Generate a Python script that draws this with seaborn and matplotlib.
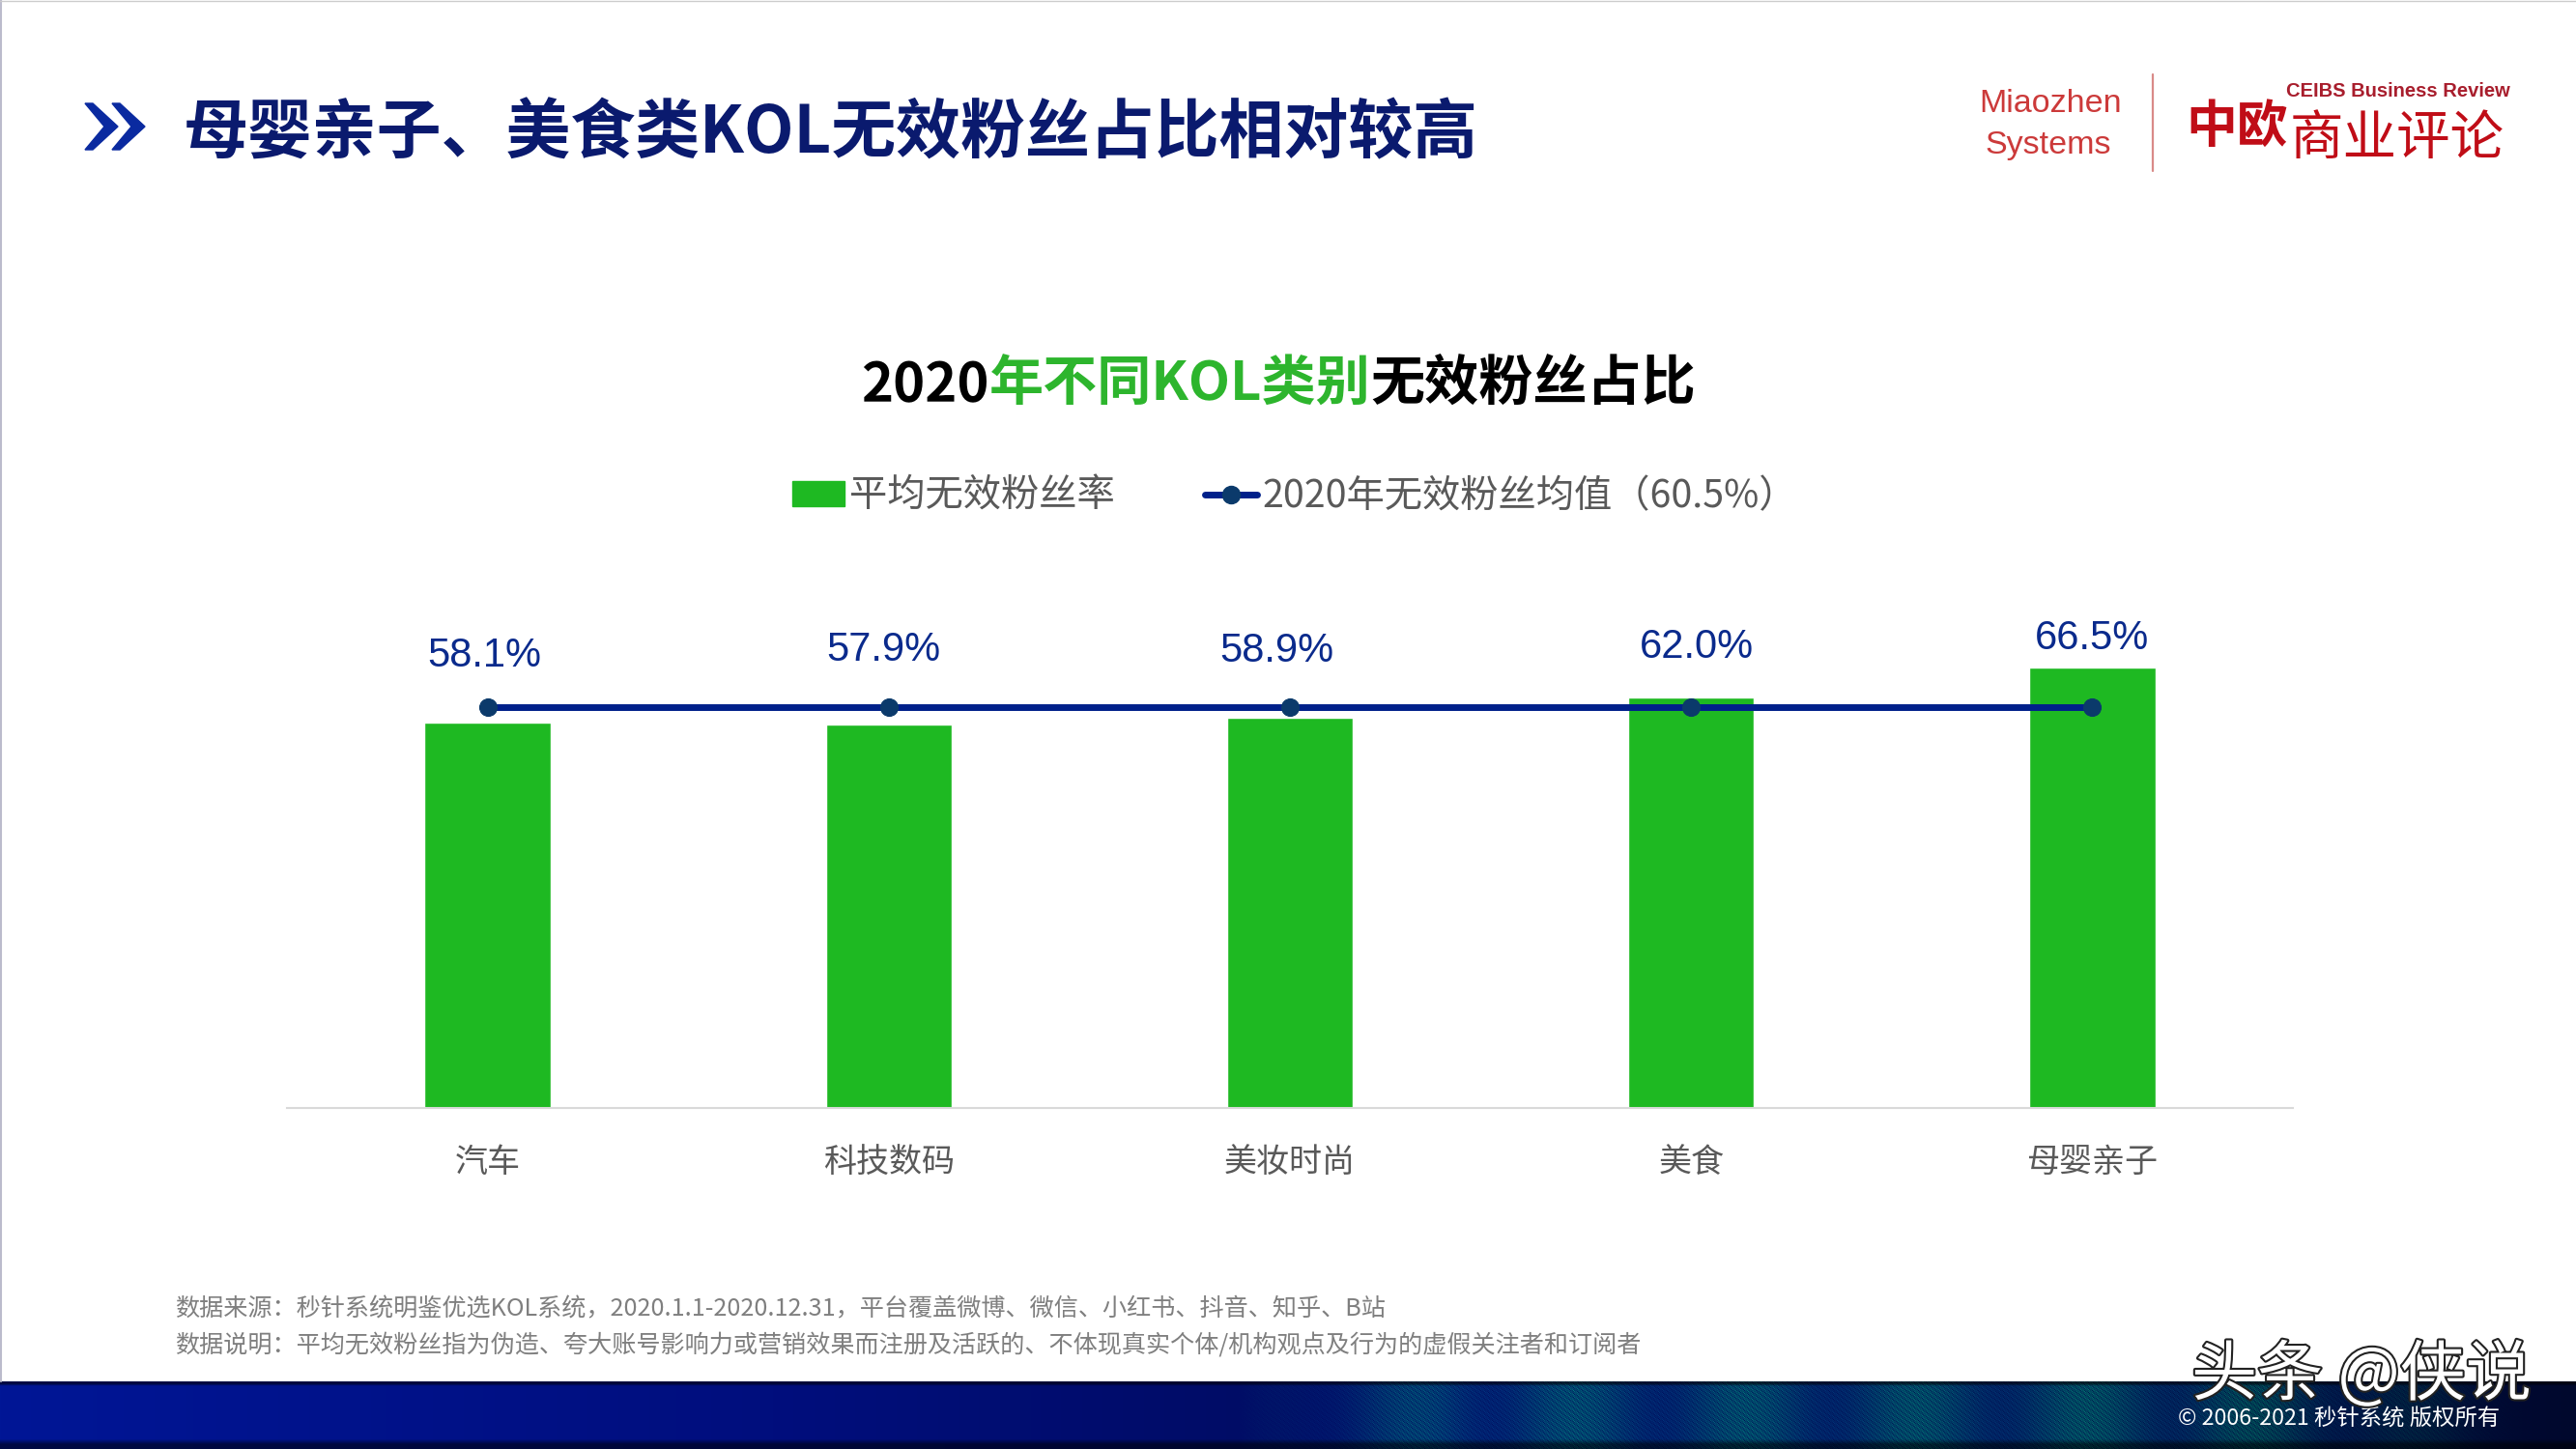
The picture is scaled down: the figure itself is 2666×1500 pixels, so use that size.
import numpy as np
import pandas as pd
import matplotlib
matplotlib.use("Agg")
import matplotlib.pyplot as plt
from matplotlib.patches import Polygon
from matplotlib.lines import Line2D
import matplotlib.patheffects as pe
import seaborn as sns

categories = ["汽车", "科技数码", "美妆时尚", "美食", "母婴亲子"]
invalid_rate = [58.1, 57.9, 58.9, 62.0, 66.5]
mean_rate = [60.5, 60.5, 60.5, 60.5, 60.5]
value_labels = ["58.1%", "57.9%", "58.9%", "62.0%", "66.5%"]
label_gap_px = [73, 81, 73, 56, 34]
label_dx_px = [-3, -5, -14, 6, 0]
bar_name = "平均无效粉丝率"
line_name = "2020年无效粉丝均值\uff0860.5%\uff09"
main_title = "母婴亲子、美食类KOL无效粉丝占比相对较高"
chart_title_parts = ["2020", "年不同KOL类别", "无效粉丝占比"]
notes = ["数据来源\uff1a秒针系统明鉴优选KOL系统\uff0c2020.1.1-2020.12.31\uff0c平台覆盖微博、微信、小红书、抖音、知乎、B站",
         "数据说明\uff1a平均无效粉丝指为伪造、夸大账号影响力或营销效果而注册及活跃的、不体现真实个体/机构观点及行为的虚假关注者和订阅者"]

W, H = 2666, 1500
CJK = ["Noto Sans CJK SC", "DejaVu Sans"]
LAT = ["Liberation Sans", "DejaVu Sans"]
GREEN = "#1EB922"
NAVY = "#00208A"
GREY = "#595959"

sns.set_theme(style="white")
plt.rcParams["font.family"] = CJK
plt.rcParams["axes.unicode_minus"] = False

fig = plt.figure(figsize=(W / 100, H / 100), dpi=100, facecolor="white")


def ftext(x, y, s, **kw):
    kw.setdefault("va", "center")
    return fig.text(x / W, 1 - y / H, s, **kw)


# footer band (decorative gradient)
band_h = 70
bx = np.linspace(0, 1, W)
by = np.linspace(0, 1, band_h)
xx, yy = np.meshgrid(bx, by)
stops = np.array([0, 0.3, 0.5, 0.8, 1.0])
r = np.interp(xx, stops, [0, 0, 0, 0, 0])
g = np.interp(xx, stops, [22, 14, 12, 16, 8])
b = np.interp(xx, stops, [150, 125, 100, 80, 45])
weave = (np.sin(xx * 1900) * np.sin(xx * 5300 + yy * 70) * np.sin(yy * 155 + xx * 700) + 1) / 2
bands = (np.sin(xx * 95) + 1) / 2
mask = np.clip((xx - 0.48) / 0.08, 0, 1) * np.clip((0.98 - xx) / 0.12, 0, 1)
g = g + mask * weave * (40 + 70 * bands)
b = b + mask * weave * 35
shade = np.clip(yy * 16, 0.45, 1) * np.clip((1 - yy) * 7, 0.45, 1)
img = np.dstack([r, g * shade, b * shade]) / 255
ax_band = fig.add_axes([0, 0, 1, band_h / H])
ax_band.imshow(np.clip(img, 0, 1), aspect="auto", interpolation="nearest")
ax_band.axis("off")

# chart
left, right, top, bottom = 297, 2373, 461, 1147
ax = fig.add_axes([left / W, 1 - bottom / H, (right - left) / W, (bottom - top) / H])
ax.patch.set_alpha(0)
df = pd.DataFrame({"category": categories, "rate": invalid_rate, "mean": mean_rate})
sns.barplot(data=df, x="category", y="rate", color=GREEN, saturation=1, width=0.314, ax=ax, zorder=2)
sns.lineplot(x=np.arange(len(categories)), y=df["mean"], color=NAVY, linewidth=5, marker="o", markersize=13,
             markerfacecolor="#0B3A6B", markeredgecolor="#0B3A6B", errorbar=None, ax=ax, zorder=3)
ax.set_xlim(-0.5, 4.5)
ax.set_ylim(0, 100)
ax.set_xlabel("")
ax.set_ylabel("")
ax.set_yticks([])
for s in ["top", "left", "right"]:
    ax.spines[s].set_visible(False)
ax.spines["bottom"].set_color("#D9D9D9")
ax.spines["bottom"].set_linewidth(1.5)
ax.tick_params(axis="x", length=0, pad=28, labelsize=24.5, labelcolor=GREY)
for i, (v, lab, gap, dx) in enumerate(zip(invalid_rate, value_labels, label_gap_px, label_dx_px)):
    ax.annotate(lab, xy=(i, v), xytext=(dx * 0.72, (gap - 4) * 0.72), textcoords="offset points", ha="center",
                va="center", fontsize=30, color="#0A2A8C", family=LAT)

handles = [plt.Rectangle((0, 0), 1, 1, color=GREEN),
           Line2D([0], [0], color=NAVY, lw=5, marker="o", ms=13, mfc="#0B3A6B", mec="#0B3A6B")]
leg = fig.legend(handles, [bar_name, line_name], ncol=2, frameon=False, fontsize=28.3, labelcolor=GREY,
                 handlelength=1.37, handletextpad=0.13, columnspacing=2.38, handleheight=0.62,
                 loc="center left", bbox_to_anchor=(820 / W, 1 - 514 / H), borderpad=0, borderaxespad=0)

# header
for x0 in (88, 116):
    pts = [(x0, 107), (x0 + 8, 107), (x0 + 34, 131), (x0 + 8, 155), (x0, 155), (x0 + 20, 131)]
    fig.add_artist(Polygon([(px / W, 1 - py / H) for px, py in pts], closed=True, color="#0A2AA0",
                           transform=fig.transFigure))
ftext(190, 139, main_title, fontsize=48.2, fontweight="bold", color="#0A1A6E", ha="left")

renderer = fig.canvas.get_renderer()
cx = 891
for part, col in zip(chart_title_parts, ["black", "#2DB52D", "black"]):
    t = ftext(cx, 399, part, fontsize=40.4, fontweight="bold", color=col, ha="left")
    cx = t.get_window_extent(renderer).x1

# logos
NARROW = ["Liberation Sans Narrow", "Liberation Sans"]
ftext(2122, 108, "Miaozhen", fontsize=24.5, color="#CC3A3A", ha="center", family=NARROW)
ftext(2120, 150, "Systems", fontsize=24.5, color="#CC3A3A", ha="center", family=NARROW)
fig.add_artist(Line2D([2228 / W, 2228 / W], [1 - 77 / H, 1 - 177 / H], color="#D98A88", lw=1.6))
ftext(2482, 95, "CEIBS Business Review", fontsize=14.5, fontweight="bold", color="#A81E2D", ha="center", family=LAT)
ftext(2262, 131, "中欧", fontsize=38, fontweight="bold", color="#C00D17", ha="left")
ftext(2370, 144, "商业评论", fontsize=40, color="#C00D17", ha="left")

# footnotes
ftext(181, 1355, notes[0], fontsize=18.1, color="#7F7F7F", ha="left")
ftext(181, 1392, notes[1], fontsize=18.1, color="#7F7F7F", ha="left")
ftext(2254, 1469, "© 2006-2021 秒针系统 版权所有", fontsize=16.8, color="white", ha="left")
ftext(2268, 1425, "头条 @侠说", fontsize=49, color="white", ha="left",
      path_effects=[pe.withStroke(linewidth=3, foreground="#222222")])

# slide edge
fig.add_artist(Line2D([0.0004, 0.0004], [band_h / H, 1], color="#BBBBCC", lw=1.5))
fig.add_artist(Line2D([0, 1], [0.9995, 0.9995], color="#CCCCCC", lw=1))

fig.savefig("out.png", dpi=100)
